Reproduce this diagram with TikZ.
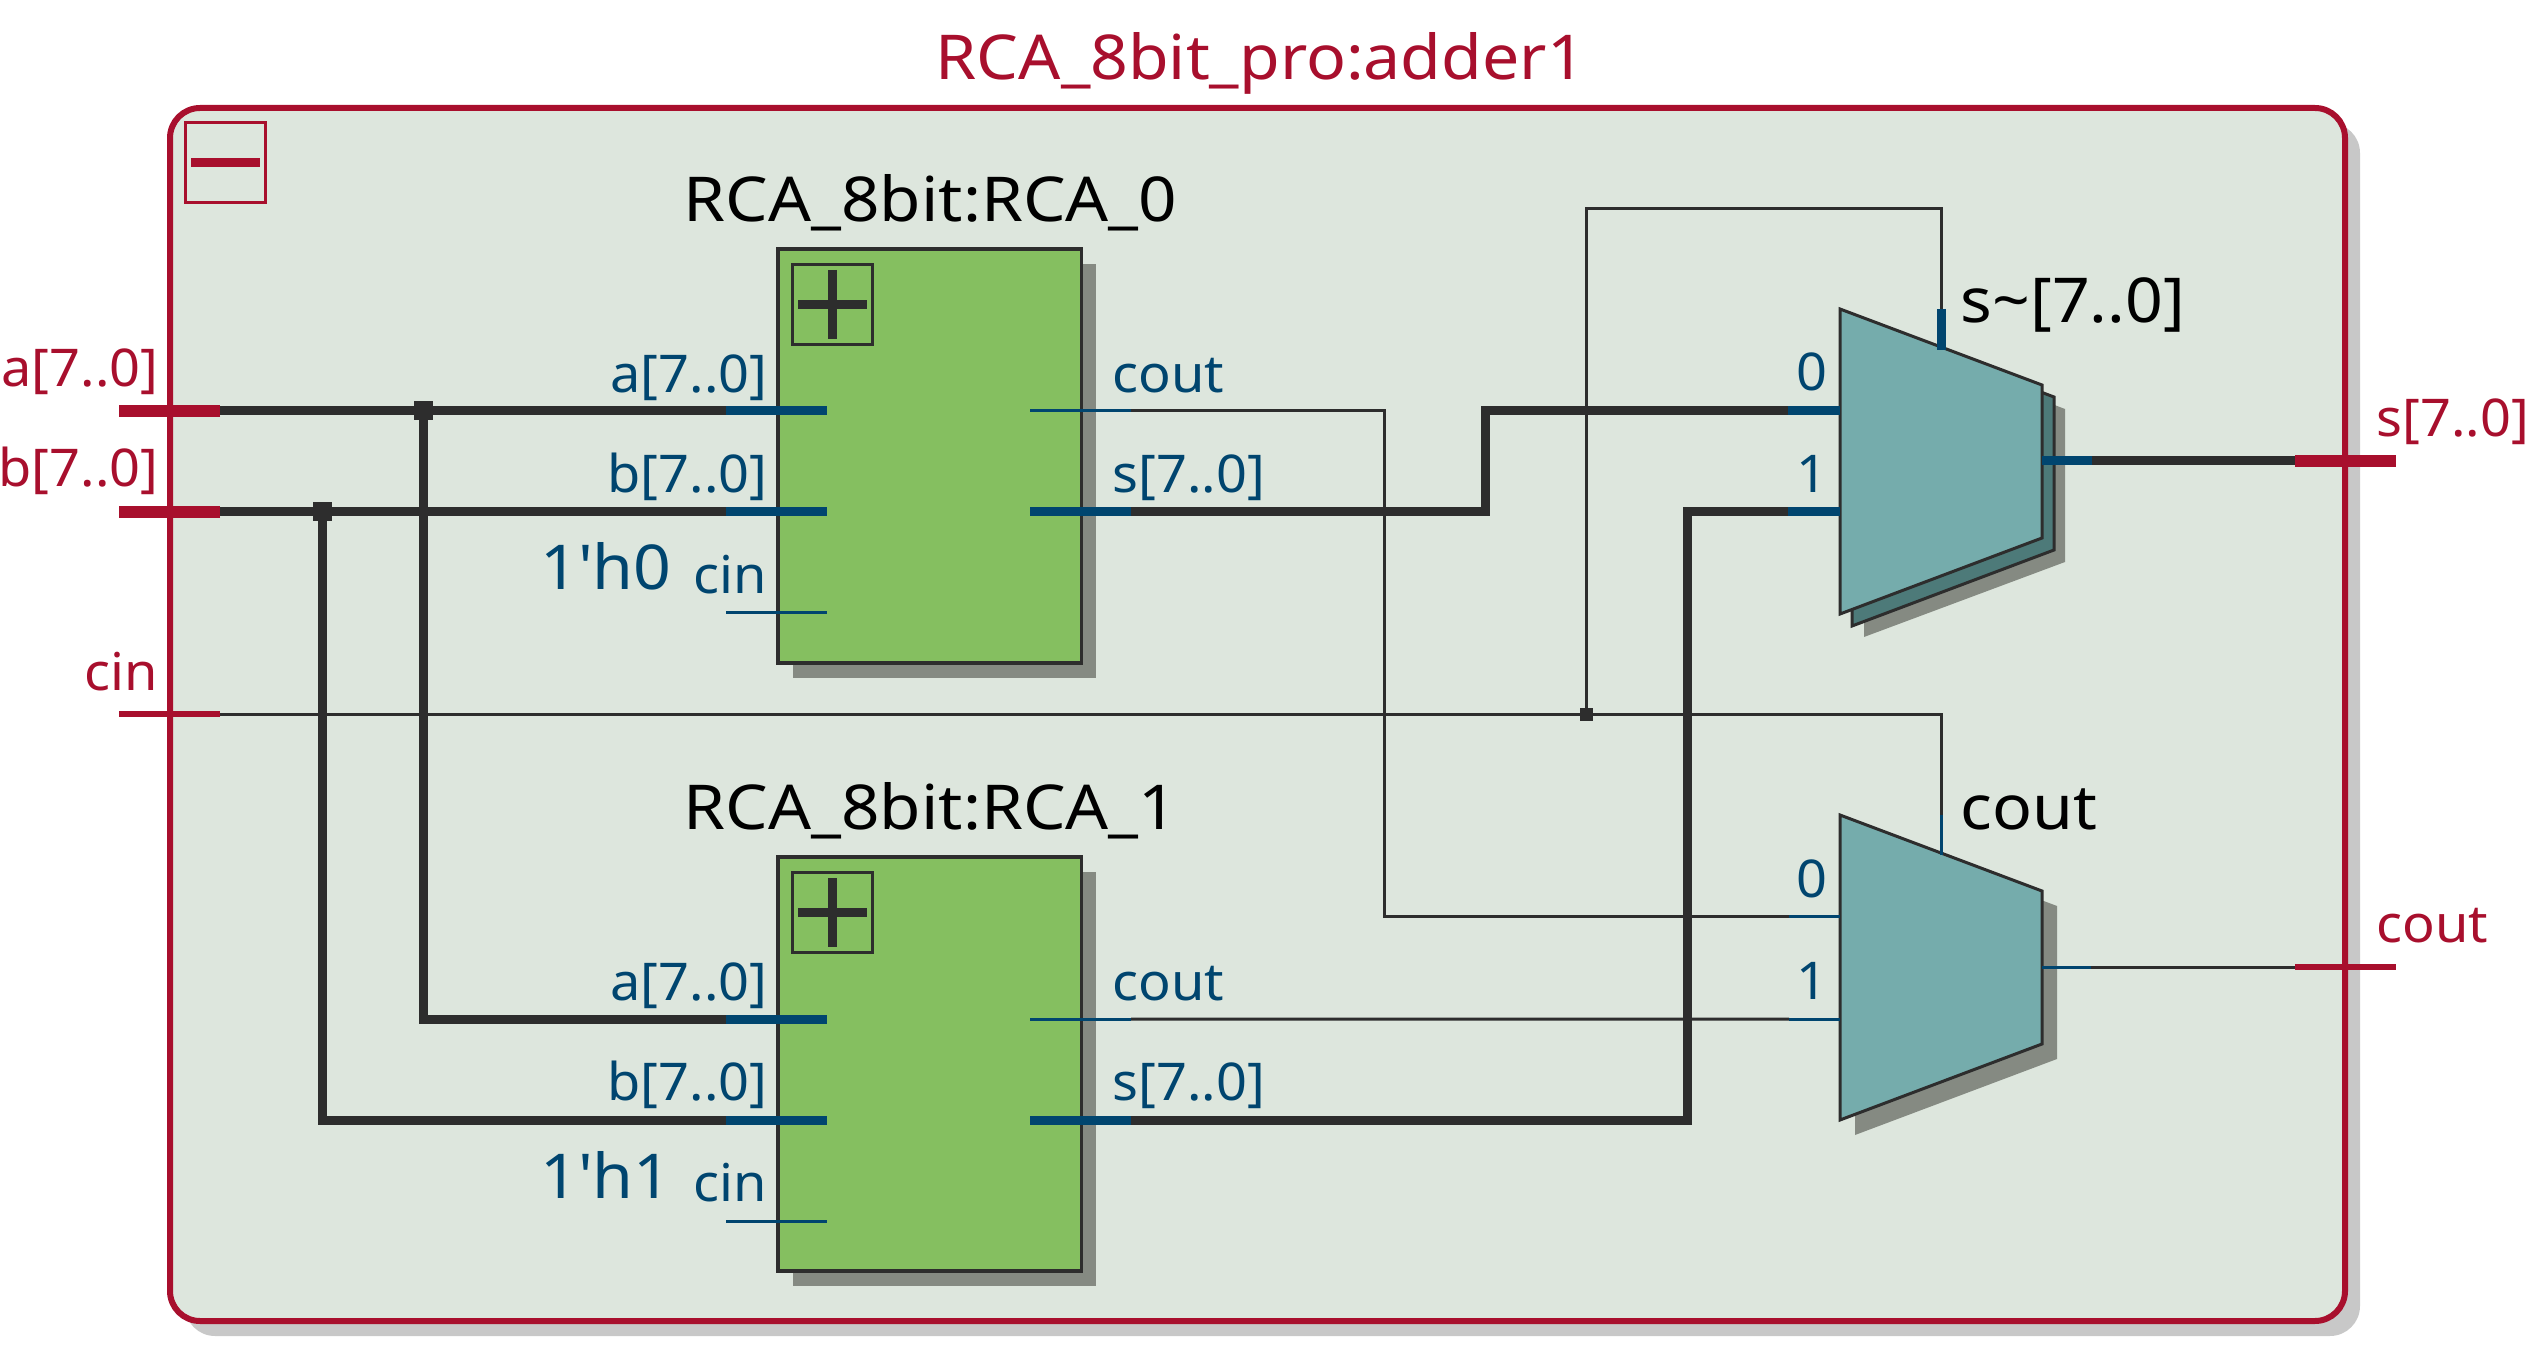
\documentclass[tikz,border=0pt]{standalone}
\usepackage{fontspec}
\setmainfont[FakeStretch=1.04]{Noto Sans}
\newfontfamily\bigfont[FakeStretch=1.07]{Noto Sans}
\newfontfamily\namefont[FakeStretch=1.09]{Noto Sans}
\usetikzlibrary{calc,shadows}
\definecolor{framered}{HTML}{A80F2D}
\definecolor{paneback}{HTML}{DDE6DD}
\definecolor{wiredark}{HTML}{2D2D2D}
\definecolor{pinblue}{HTML}{00456F}
\definecolor{blockgreen}{HTML}{85BF60}
\definecolor{muxteal}{HTML}{75ACAC}
\definecolor{muxback}{HTML}{4D7A79}
\definecolor{shadowgrey}{HTML}{858A82}
\definecolor{frameshadow}{HTML}{C8C8C8}

\begin{document}
\begin{tikzpicture}[y=-1cm,
  pane/.style={draw=framered, fill=paneback, line width=.6mm, rounded corners=3mm, inner sep=0, outer sep=0,
    minimum width=21.75cm, minimum height=12.13cm,
    general shadow={fill=frameshadow, shadow xshift=1.5mm, shadow yshift=-1.5mm}},
  block/.style={draw=wiredark, fill=blockgreen, line width=.35mm, inner sep=0, outer sep=0,
    minimum width=3.035cm, minimum height=4.14cm,
    general shadow={fill=shadowgrey, shadow xshift=1.5mm, shadow yshift=-1.5mm}},
  btn/.style={draw, fill=none, line width=.3mm, inner sep=0, outer sep=0, minimum width=.80cm, minimum height=.80cm},
  bus/.style={wiredark, line width=.9mm},
  wire/.style={wiredark, line width=.3mm},
  busstub/.style={pinblue, line width=.9mm},
  wirestub/.style={pinblue, line width=.3mm},
  busport/.style={framered, line width=1.15mm},
  wireport/.style={framered, line width=.6mm},
  mux/.style={draw=wiredark, line width=.3mm, line join=miter},
  dot/.style={fill=wiredark, inner sep=0, outer sep=0},
  big/.style={inner sep=0, font=\bigfont\fontsize{17.6}{20}\selectfont},
  small/.style={inner sep=0, font=\fontsize{14.8}{18}\selectfont},
  plab/.style={small, pinblue},
  rlab/.style={small, framered}]
\useasboundingbox (0,0) rectangle (25.28,13.6);
\node[pane] (frame) at (12.575,7.145) {};
\node[btn, draw=framered] (collapse) at (2.255,1.625) {};
\draw[framered, line width=.9mm] (1.91,1.625) -- (2.60,1.625);
\node[big, framered, anchor=base west] (title) at (9.35,.795) {RCA\_8bit\_pro:adder1};

% top level ports
\coordinate (ina) at (2.20,4.11);
\coordinate (inb) at (2.20,5.12);
\coordinate (incin) at (2.20,7.14);
\coordinate (outs) at (22.95,4.61);
\coordinate (outc) at (22.95,9.67);

% the two sub blocks
\foreach \n/\v/\off in {0/0/0, 1/1/6.08}{
  \begin{scope}[yshift=-\off cm]
  \node[block] (rca\n) at (9.295,4.56) {};
  \node[btn, draw=wiredark] (plus\n) at (8.325,3.045) {};
  \draw[wiredark, line width=.9mm] (7.98,3.045) -- (8.67,3.045);
  \draw[wiredark, line width=.9mm] (8.325,2.70) -- (8.325,3.39);
  \coordinate (pa\n) at (7.26,4.11);
  \coordinate (pb\n) at (7.26,5.12);
  \coordinate (pc\n) at (7.26,6.13);
  \coordinate (qc\n) at (11.31,4.11);
  \coordinate (qs\n) at (11.31,5.12);
  \node[big, font=\namefont\fontsize{17.6}{20}\selectfont, anchor=base west] (name\n) at (6.83,2.215) {RCA\_8bit:RCA\_\n};
  \node[plab, anchor=base east] (la\n) at (7.68,3.925) {a[7..0]};
  \node[plab, anchor=base east] (lb\n) at (7.68,4.925) {b[7..0]};
  \node[plab, anchor=base east] (lc\n) at (7.68,5.935) {cin};
  \node[big, pinblue, anchor=base east] (const\n) at (6.72,5.90) {1\textquotesingle h\v};
  \node[plab, anchor=base west] (lo\n) at (11.12,3.925) {cout};
  \node[plab, anchor=base west] (lq\n) at (11.12,4.925) {s[7..0]};
  \end{scope}
}

% muxes
\fill[shadowgrey] (18.64,3.33) -- (20.65,4.09) -- (20.65,5.62) -- (18.64,6.37) -- cycle;
\filldraw[mux, fill=muxback] (18.52,3.21) -- (20.54,3.97) -- (20.54,5.50) -- (18.52,6.26) -- cycle;
\filldraw[mux, fill=muxteal] (18.40,3.09) -- (20.42,3.85) -- (20.42,5.38) -- (18.40,6.14) -- cycle;
\fill[shadowgrey] (18.55,8.30) -- (20.57,9.06) -- (20.57,10.59) -- (18.55,11.35) -- cycle;
\filldraw[mux, fill=muxteal] (18.40,8.15) -- (20.42,8.91) -- (20.42,10.44) -- (18.40,11.20) -- cycle;
\coordinate (m0a) at (17.88,4.11);
\coordinate (m0b) at (17.88,5.12);
\coordinate (m0s) at (19.41,3.09);
\coordinate (m0o) at (20.92,4.61);
\coordinate (m1a) at (17.89,9.165);
\coordinate (m1b) at (17.89,10.19);
\coordinate (m1s) at (19.41,8.15);
\coordinate (m1o) at (20.91,9.67);

% wires
\coordinate (ja) at (4.23,4.11);
\coordinate (jb) at (3.22,5.12);
\coordinate (jc) at (15.865,7.14);
\draw[bus] (ina) -- (pa0);
\draw[bus] (inb) -- (pb0);
\draw[bus] (ja) |- (pa1);
\draw[bus] (jb) |- (pb1);
\draw[bus] (qs0) -| (14.85,4.11) -- (m0a);
\draw[bus] (qs1) -| (16.87,5.12) -- (m0b);
\draw[bus] (m0o) -- (outs);
\draw[wire] (incin) -| (m1s);
\draw[wire] (jc) |- (19.41,2.085) -- (m0s);
\draw[wire] (qc0) -| (13.84,9.165) -- (m1a);
\draw[wire] (qc1) -- (m1b);
\draw[wire] (m1o) -- (outc);

% pin stubs
\foreach \n in {0,1}{
  \draw[busstub] (pa\n) -- ++(1.01,0);
  \draw[busstub] (pb\n) -- ++(1.01,0);
  \draw[wirestub] (pc\n) -- ++(1.01,0);
  \draw[wirestub] (qc\n) -- ++(-1.01,0);
  \draw[busstub] (qs\n) -- ++(-1.01,0);
}
\foreach \p in {m0a,m0b}{
  \draw[busstub] (\p) -- ++(.52,0);}
\foreach \p in {m1a,m1b}{
  \draw[wirestub] (\p) -- ++(.51,0);}
\draw[busstub] (m0s) -- ++(0,.41);
\draw[wirestub] (m1s) -- ++(0,.40);
\draw[busstub] (m0o) -- ++(-.50,0);
\draw[wirestub] (m1o) -- ++(-.49,0);

% ports on the frame
\draw[busport] (ina) -- ++(-1.01,0);
\draw[busport] (inb) -- ++(-1.01,0);
\draw[wireport] (incin) -- ++(-1.01,0);
\draw[busport] (outs) -- ++(1.01,0);
\draw[wireport] (outc) -- ++(1.01,0);

% junctions
\node[dot, minimum size=1.9mm] (dota) at (ja) {};
\node[dot, minimum size=1.9mm] (dotb) at (jb) {};
\node[dot, minimum size=1.3mm] (dotc) at (jc) {};

% labels
\node[rlab, anchor=base east] (lina) at (1.59,3.87) {a[7..0]};
\node[rlab, anchor=base east] (linb) at (1.59,4.87) {b[7..0]};
\node[rlab, anchor=base east] (linc) at (1.59,6.90) {cin};
\node[rlab, anchor=base west] (louts) at (23.76,4.37) {s[7..0]};
\node[rlab, anchor=base west] (loutc) at (23.76,9.42) {cout};
\node[big, anchor=base west] (lmux0) at (19.60,3.23) {s\textasciitilde[7..0]};
\node[big, anchor=base west] (lmux1) at (19.60,8.29) {cout};
\node[plab, anchor=base] (m0l0) at (18.12,3.91) {0};
\node[plab, anchor=base] (m0l1) at (18.12,4.93) {1};
\node[plab, anchor=base] (m1l0) at (18.12,8.97) {0};
\node[plab, anchor=base] (m1l1) at (18.12,9.99) {1};
\end{tikzpicture}
\end{document}
